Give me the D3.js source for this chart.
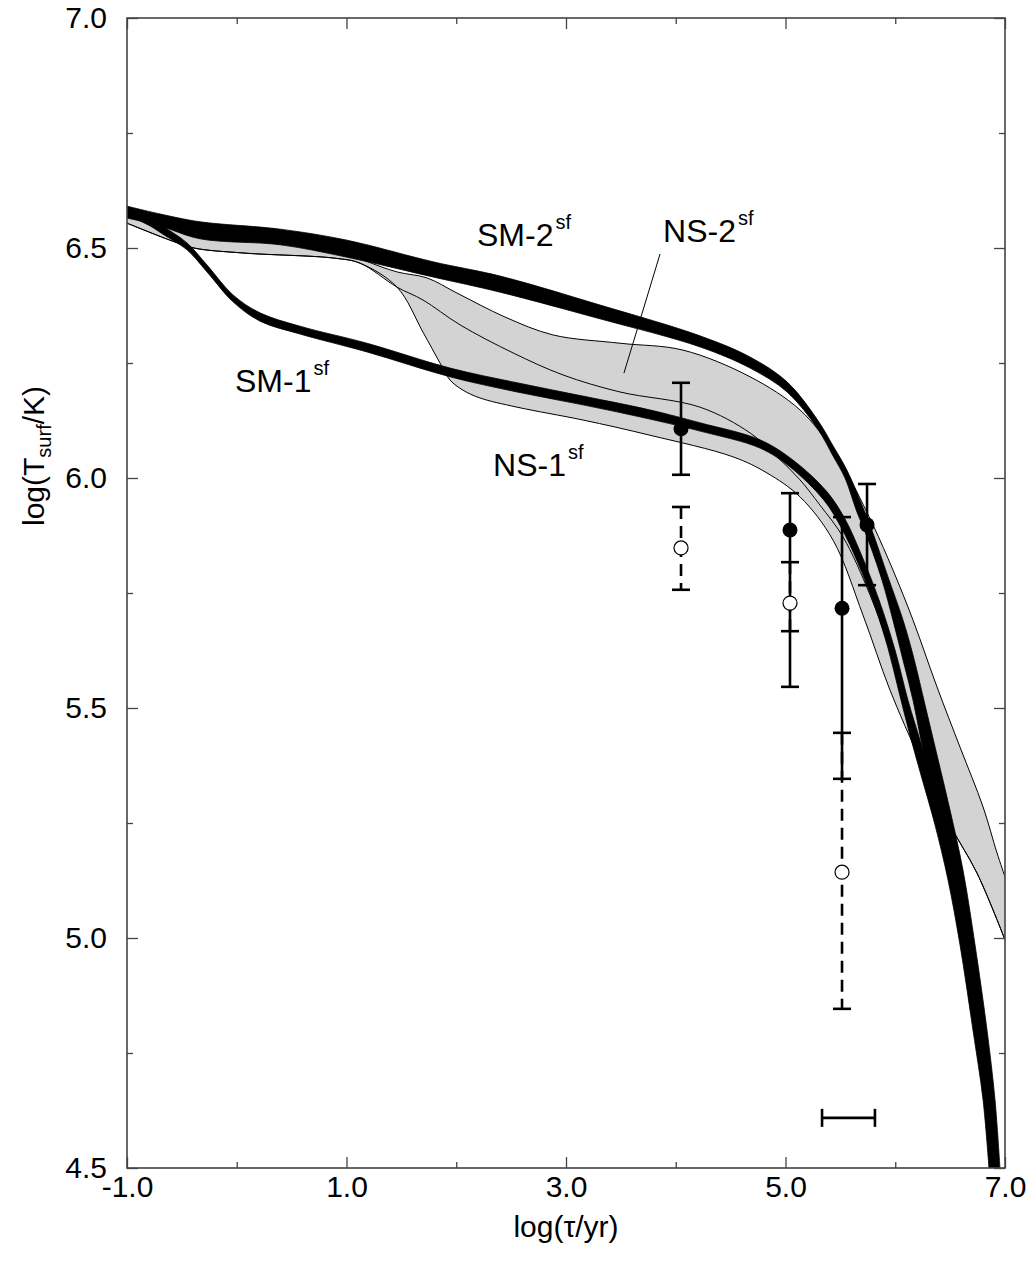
<!DOCTYPE html>
<html><head><meta charset="utf-8">
<script src="https://cdn.jsdelivr.net/npm/d3@7"></script>
<style>body{margin:0;background:#fff}</style>
</head><body>
<svg id="chart" width="1036" height="1268"></svg>
<script>
// ---------------- data (log tau [yr], log Tsurf [K]) ----------------
const sm2Upper = [[-1.000,6.591],[-0.699,6.574],[-0.335,6.557],[0.394,6.541],[1.005,6.517],[1.788,6.470],[2.399,6.439],[3.310,6.376],[4.221,6.309],[4.677,6.263],[5.014,6.209],[5.287,6.128],[5.433,6.070],[5.560,6.017],[5.697,5.941],[5.797,5.880],[5.934,5.785],[6.071,5.691],[6.162,5.615],[6.271,5.507],[6.380,5.398],[6.499,5.278],[6.617,5.148],[6.727,4.985],[6.836,4.800],[6.909,4.648],[6.954,4.500]];
const sm2Lower = [[-1.000,6.565],[-0.699,6.548],[-0.335,6.520],[0.394,6.507],[1.005,6.480],[1.788,6.437],[2.399,6.404],[3.310,6.346],[4.221,6.285],[4.677,6.239],[5.014,6.187],[5.287,6.109],[5.433,6.048],[5.542,6.000],[5.651,5.926],[5.743,5.872],[5.879,5.778],[5.979,5.691],[6.071,5.604],[6.162,5.517],[6.235,5.430],[6.317,5.343],[6.435,5.235],[6.544,5.126],[6.645,4.985],[6.763,4.800],[6.845,4.648],[6.891,4.500]];
const sm1Upper = [[-1.000,6.589],[-0.790,6.570],[-0.672,6.548],[-0.453,6.511],[-0.271,6.463],[-0.034,6.398],[0.212,6.359],[0.576,6.330],[1.187,6.293],[1.943,6.239],[2.554,6.207],[3.155,6.178],[3.765,6.148],[4.221,6.120],[4.768,6.083],[5.068,6.039],[5.378,5.970],[5.542,5.911],[5.697,5.830],[5.852,5.735],[5.998,5.626],[6.116,5.517],[6.226,5.430],[6.335,5.343],[6.444,5.235],[6.554,5.126],[6.663,4.985],[6.772,4.800],[6.854,4.648],[6.909,4.500]];
const sm1Lower = [[-1.000,6.572],[-0.790,6.548],[-0.672,6.530],[-0.453,6.496],[-0.271,6.448],[-0.034,6.383],[0.212,6.341],[0.576,6.313],[1.187,6.274],[1.943,6.220],[2.554,6.187],[3.155,6.159],[3.765,6.128],[4.221,6.102],[4.768,6.065],[5.041,6.024],[5.349,5.952],[5.506,5.893],[5.660,5.815],[5.815,5.720],[5.934,5.630],[6.034,5.535],[6.134,5.441],[6.235,5.354],[6.362,5.246],[6.481,5.126],[6.590,4.985],[6.708,4.800],[6.800,4.648],[6.854,4.500]];
const ns2Upper = [[-1.000,6.578],[-0.335,6.537],[0.394,6.524],[0.850,6.504],[1.150,6.474],[1.460,6.448],[1.733,6.435],[2.007,6.402],[2.444,6.350],[2.882,6.311],[3.492,6.293],[4.066,6.278],[4.677,6.220],[5.132,6.148],[5.433,6.061],[5.560,6.011],[5.797,5.898],[5.979,5.800],[6.162,5.691],[6.380,5.546],[6.590,5.415],[6.800,5.285],[6.927,5.185],[7.000,5.133]];
const ns2Lower = [[-1.000,6.554],[-0.608,6.517],[-0.390,6.500],[0.066,6.489],[0.886,6.478],[1.123,6.467],[1.460,6.415],[1.697,6.387],[2.034,6.333],[2.517,6.272],[2.973,6.224],[3.492,6.187],[4.221,6.154],[4.677,6.098],[4.923,6.046],[5.132,5.996],[5.314,5.941],[5.524,5.872],[5.770,5.746],[5.952,5.626],[6.089,5.507],[6.226,5.387],[6.472,5.257],[6.745,5.141],[7.000,4.996]];
const ns1Lower = [[-1.000,6.554],[-0.608,6.517],[-0.390,6.500],[0.066,6.489],[0.886,6.478],[1.123,6.467],[1.460,6.415],[1.697,6.317],[1.852,6.250],[1.943,6.213],[2.061,6.191],[2.216,6.174],[2.554,6.154],[3.155,6.126],[3.765,6.093],[4.522,6.046],[4.831,6.011],[5.132,5.959],[5.433,5.865],[5.706,5.702],[5.952,5.539],[6.226,5.387],[6.472,5.257],[6.745,5.141],[7.000,4.996]];

// observations: filled circles (solid bars) and open circles (dashed bars)
const obsAge      = [4.048, 5.041, 5.515, 5.743];
const obsT        = [6.107, 5.887, 5.717, 5.898];
const obsTHi      = [6.207, 5.967, 5.915, 5.987];
const obsTLo      = [6.007, 5.546, 5.346, 5.767];
const openAge     = [4.048, 5.041, 5.515];
const openT       = [5.848, 5.728, 5.143];
const openTHi     = [5.937, 5.817, 5.446];
const openTLo     = [5.757, 5.667, 4.846];
const ageBarX     = [5.333, 5.815];
const ageBarY     = 4.609;

// labels
const labelMain = ['SM-2', 'NS-2', 'SM-1', 'NS-1'];
const labelX    = [2.189, 3.884, -0.016, 2.335];
const labelY    = [6.504, 6.513, 6.187, 6.004];
const pointer   = [[3.857, 6.487], [3.528, 6.228]];

// axes
const xMajor = [-1, 1, 3, 5, 7];
const xMinor = [0, 2, 4, 6];
const yMajor = [4.5, 5.0, 5.5, 6.0, 6.5, 7.0];
const yMinor = [4.75, 5.25, 5.75, 6.25, 6.75];

// ---------------- drawing ----------------
const font = '"Liberation Sans", Arial, Helvetica, sans-serif';
const L = 127, R = 1005, T = 18, B = 1168;
const x = d3.scaleLinear().domain([-1, 7]).range([L, R]);
const y = d3.scaleLinear().domain([4.5, 7]).range([B, T]);
const svg = d3.select('#chart');

svg.append('defs').append('clipPath').attr('id', 'clip')
  .append('rect').attr('x', L).attr('y', T).attr('width', R - L).attr('height', B - T);
const plot = svg.append('g').attr('clip-path', 'url(#clip)');

const line = d3.line().x(d => x(d[0])).y(d => y(d[1])).curve(d3.curveCatmullRom.alpha(0.5));
function band(upper, lower) {
  const a = line(upper);
  const b = line(lower.slice().reverse());
  return a + 'L' + b.slice(1) + 'Z';
}

// gray NS bands
plot.append('path').attr('d', band(ns2Upper, ns2Lower)).attr('fill', '#d3d3d3');
plot.append('path').attr('d', band(ns2Lower, ns1Lower)).attr('fill', '#d3d3d3');
[ns2Upper, ns2Lower, ns1Lower].forEach(c => {
  plot.append('path').attr('d', line(c)).attr('fill', 'none').attr('stroke', '#000').attr('stroke-width', 1);
});

// black SM bands
[[sm1Upper, sm1Lower], [sm2Upper, sm2Lower]].forEach(([u, l]) => {
  plot.append('path').attr('d', band(u, l)).attr('fill', '#000').attr('stroke', '#000').attr('stroke-width', 0.8);
});

// pointer line for NS-2 label
plot.append('line')
  .attr('x1', x(pointer[0][0])).attr('y1', y(pointer[0][1]))
  .attr('x2', x(pointer[1][0])).attr('y2', y(pointer[1][1]))
  .attr('stroke', '#000').attr('stroke-width', 1);

// error bars
const capW = 9;
function vbar(g, xv, lo, hi, dashed) {
  g.append('line').attr('x1', x(xv)).attr('x2', x(xv)).attr('y1', y(hi)).attr('y2', y(lo))
    .attr('stroke', '#000').attr('stroke-width', 2.6).attr('stroke-dasharray', dashed ? '12,7' : null);
  [lo, hi].forEach(v => g.append('line').attr('x1', x(xv) - capW).attr('x2', x(xv) + capW)
    .attr('y1', y(v)).attr('y2', y(v)).attr('stroke', '#000').attr('stroke-width', 2.6));
}
const eb = plot.append('g');
openAge.forEach((a, i) => vbar(eb, a, openTLo[i], openTHi[i], true));
obsAge.forEach((a, i) => vbar(eb, a, obsTLo[i], obsTHi[i], false));
// horizontal age bar
eb.append('line').attr('x1', x(ageBarX[0])).attr('x2', x(ageBarX[1])).attr('y1', y(ageBarY)).attr('y2', y(ageBarY))
  .attr('stroke', '#000').attr('stroke-width', 2.6);
ageBarX.forEach(v => eb.append('line').attr('x1', x(v)).attr('x2', x(v)).attr('y1', y(ageBarY) - 9).attr('y2', y(ageBarY) + 9)
  .attr('stroke', '#000').attr('stroke-width', 2.6));

// circles
eb.selectAll('circle.open').data(openAge).enter().append('circle').attr('class', 'open')
  .attr('cx', d => x(d)).attr('cy', (d, i) => y(openT[i])).attr('r', 7)
  .attr('fill', '#fff').attr('stroke', '#000').attr('stroke-width', 1.2);
eb.selectAll('circle.fill').data(obsAge).enter().append('circle').attr('class', 'fill')
  .attr('cx', d => x(d)).attr('cy', (d, i) => y(obsT[i])).attr('r', 7.5).attr('fill', '#000');

// frame
svg.append('rect').attr('x', L).attr('y', T).attr('width', R - L).attr('height', B - T)
  .attr('fill', 'none').attr('stroke', '#444').attr('stroke-width', 1.6);

const fmt = v => v.toFixed(1);
function styleAxis(g, labelled) {
  g.select('.domain').remove();
  g.selectAll('.tick line').attr('stroke', '#444').attr('stroke-width', 1.3);
  g.selectAll('text').attr('font-family', font).attr('font-size', labelled ? 30 : 0).attr('fill', '#000');
}
svg.append('g').attr('transform', `translate(0,${B})`)
  .call(d3.axisBottom(x).tickValues(xMajor).tickSizeInner(-11).tickSizeOuter(0).tickPadding(8).tickFormat(fmt))
  .call(g => styleAxis(g, true));
svg.append('g').attr('transform', `translate(0,${B})`)
  .call(d3.axisBottom(x).tickValues(xMinor).tickSizeInner(-6).tickSizeOuter(0).tickFormat(''))
  .call(g => styleAxis(g, false));
svg.append('g').attr('transform', `translate(0,${T})`)
  .call(d3.axisTop(x).tickValues(xMajor).tickSizeInner(-11).tickSizeOuter(0).tickFormat(''))
  .call(g => styleAxis(g, false));
svg.append('g').attr('transform', `translate(0,${T})`)
  .call(d3.axisTop(x).tickValues(xMinor).tickSizeInner(-6).tickSizeOuter(0).tickFormat(''))
  .call(g => styleAxis(g, false));
svg.append('g').attr('transform', `translate(${L},0)`)
  .call(d3.axisLeft(y).tickValues(yMajor).tickSizeInner(-11).tickSizeOuter(0).tickPadding(20).tickFormat(fmt))
  .call(g => styleAxis(g, true));
svg.append('g').attr('transform', `translate(${L},0)`)
  .call(d3.axisLeft(y).tickValues(yMinor).tickSizeInner(-6).tickSizeOuter(0).tickFormat(''))
  .call(g => styleAxis(g, false));
svg.append('g').attr('transform', `translate(${R},0)`)
  .call(d3.axisRight(y).tickValues(yMajor).tickSizeInner(-11).tickSizeOuter(0).tickFormat(''))
  .call(g => styleAxis(g, false));
svg.append('g').attr('transform', `translate(${R},0)`)
  .call(d3.axisRight(y).tickValues(yMinor).tickSizeInner(-6).tickSizeOuter(0).tickFormat(''))
  .call(g => styleAxis(g, false));

// axis titles
const xt = svg.append('text').attr('x', (L + R) / 2).attr('y', 1237).attr('text-anchor', 'middle')
  .attr('font-family', font).attr('font-size', 30);
xt.append('tspan').text('log(');
xt.append('tspan').text('τ');
xt.append('tspan').text('/yr)');

const yt = svg.append('text').attr('transform', 'translate(44,456) rotate(-90)').attr('text-anchor', 'middle')
  .attr('font-family', font).attr('font-size', 30);
yt.append('tspan').text('log(T');
yt.append('tspan').attr('font-size', 20).attr('dy', 7).text('surf');
yt.append('tspan').attr('dy', -7).text('/K)');

// curve labels
labelMain.forEach((t, i) => {
  const tx = svg.append('text').attr('x', x(labelX[i])).attr('y', y(labelY[i]))
    .attr('font-family', font).attr('font-size', 32);
  tx.append('tspan').text(t);
  tx.append('tspan').attr('font-size', 20).attr('dy', -17).attr('dx', 2).text('sf');
});
</script>
</body></html>
